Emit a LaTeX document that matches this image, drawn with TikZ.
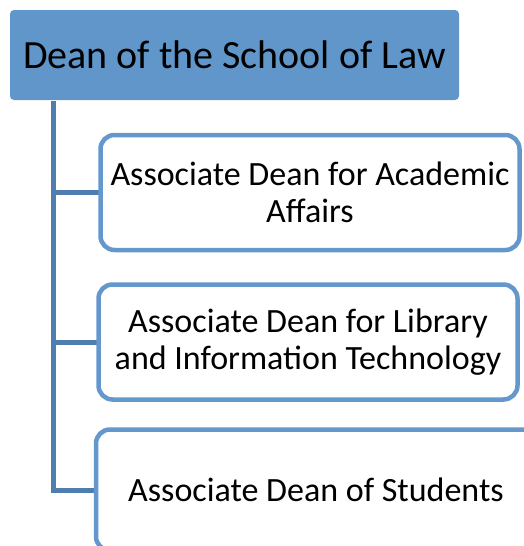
\documentclass[tikz,border=0pt]{standalone}
\usepackage{fontspec}
\setmainfont{Carlito}
\definecolor{deanfill}{RGB}{96,150,201}
\definecolor{boxline}{RGB}{100,152,205}
\definecolor{trunkline}{RGB}{79,125,176}

\begin{document}
\begin{tikzpicture}[x=1pt, y=-1pt,
	dean/.style={fill=deanfill, rounded corners=4pt, minimum width=449pt, minimum height=90pt, inner sep=0pt, font=\fontsize{40}{46}\selectfont},
	assoc/.style={draw=boxline, line width=4.5pt, fill=white, rounded corners=14pt, minimum width=419pt, minimum height=115pt, inner sep=0pt, align=center, font=\fontsize{34}{37}\selectfont},
	conn/.style={trunkline, line width=5pt}]
\useasboundingbox (0,0) rectangle (523,546);
\node[dean] (dean) at (234.5,55) {Dean of the School of Law};
\coordinate (trunk) at (53,101);
% branches
\draw[conn] (trunk) |- (310,490);
\draw[conn] (trunk |- 0,192.5) -- (100,192.5);
\draw[conn] (trunk |- 0,342) -- (100,342);
\node[assoc] (acad) at (310,192.5) {Associate Dean for Academic\\Affairs};
\node[assoc] (lib) at (308,342) {Associate Dean for Library\\and Information Technology};
\node[assoc, minimum width=440pt, minimum height=121pt] (stud) at (316,490) {Associate Dean of Students};
\end{tikzpicture}
\end{document}
